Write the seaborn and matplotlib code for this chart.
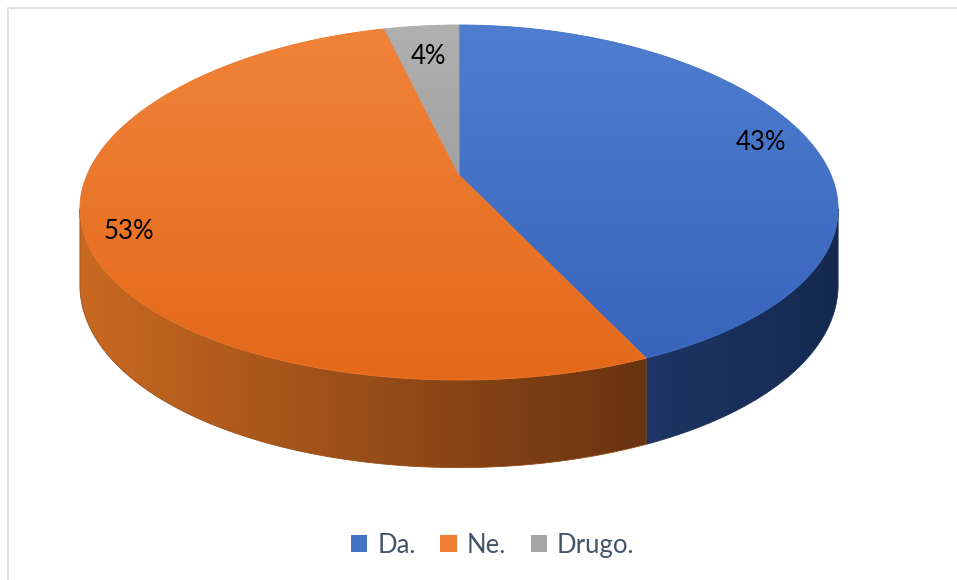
import numpy as np
import matplotlib.pyplot as plt
import seaborn as sns
from matplotlib.patches import Polygon, Patch
from matplotlib.colors import LinearSegmentedColormap

# data
labels = ["Da.", "Ne.", "Drugo."]
shares = [43, 53, 4]
pct_labels = ["43%", "53%", "4%"]

# colours (top face top->bottom, side left->right, legend)
top_colors = [("#4F7ECF", "#3864BC"), ("#F0833A", "#E4691A"), ("#B0B0B0", "#A2A2A2")]
side_colors = [("#1E3566", "#15294F"), ("#C96921", "#683310"), ("#7A7A7A", "#5E5E5E")]
legend_colors = ["#4472C4", "#ED7D31", "#A5A5A5"]

sns.set_style("white")
plt.rcParams['font.family'] = ['Lato', 'DejaVu Sans']

# layout of the tilted pie (pixel space)
cx, cy = 459, 175
rx = 372
ay, by = 177.5, 27.5   # vertical spread / perspective bend
k = 0.2                # perspective widening towards viewer
h0 = 73                # thickness


def proj(theta, f=1.0):
    u = f * np.sin(theta)
    v = -f * np.cos(theta)
    x = cx + rx * u * (1 + k * v)
    y = cy + ay * v + by * v ** 2
    return x, y, v


def grad_fill(ax, xy, c0, c1, direction, z):
    poly = Polygon(xy, closed=True, facecolor='none', edgecolor='none')
    ax.add_patch(poly)
    x0, y0 = xy.min(0)
    x1, y1 = xy.max(0)
    cmap = LinearSegmentedColormap.from_list('g', [c0, c1])
    if direction == 'h':
        arr = np.linspace(0, 1, 256)[None, :]
    else:
        arr = np.linspace(0, 1, 256)[:, None]
    im = ax.imshow(arr, cmap=cmap, extent=(x0, x1, y1, y0), origin='upper',
                   aspect='auto', zorder=z, interpolation='bilinear')
    im.set_clip_path(poly)
    ax.add_patch(Polygon(xy, closed=True, facecolor='none',
                         edgecolor=cmap(0.5), lw=0.6, zorder=z + 0.1))


fig = plt.figure(figsize=(9.57, 5.80), dpi=100)
ax = fig.add_axes([0, 0, 1, 1])
ax.axis('off')

fracs = np.array(shares) / np.sum(shares)
bounds = np.concatenate([[0], np.cumsum(fracs)]) * 2 * np.pi

# visible side range: between the extreme left/right points of the rim
tt = np.linspace(0, 2 * np.pi, 3601)
xx, _, _ = proj(tt)
t_right = tt[np.argmax(xx)]
t_left = tt[np.argmin(xx)]

# sides
for i in range(len(shares)):
    a0 = max(bounds[i], t_right)
    a1 = min(bounds[i + 1], t_left)
    if a1 <= a0:
        continue
    t = np.linspace(a0, a1, 200)
    x, y, v = proj(t)
    h = h0 * (1 + k * v)
    xy = np.vstack([np.column_stack([x, y]), np.column_stack([x, y + h])[::-1]])
    grad_fill(ax, xy, side_colors[i][0], side_colors[i][1], 'h', 2 + i * 0.2)

# top faces
for i in range(len(shares)):
    t = np.linspace(bounds[i], bounds[i + 1], 300)
    x, y, _ = proj(t)
    xy = np.vstack([[cx, cy], np.column_stack([x, y])])
    grad_fill(ax, xy, top_colors[i][0], top_colors[i][1], 'v', 4 + i * 0.2)

# percentage labels
label_f = [0.865, 0.89, 0.76]
for i in range(len(shares)):
    mid = (bounds[i] + bounds[i + 1]) / 2
    x, y, _ = proj(mid, label_f[i])
    ax.text(x, y, pct_labels[i], ha='center', va='center', fontsize=18.5,
            color='#000000', zorder=10)

# chart area border (left and top visible)
ax.plot([8, 8], [8, 580], color='#DCE1E8', lw=1.4, zorder=1)
ax.plot([8, 957], [8, 8], color='#DCE1E8', lw=1.4, zorder=1)

ax.set_xlim(0, 957)
ax.set_ylim(580, 0)

handles = [Patch(facecolor=c, edgecolor='none') for c in legend_colors]
fig.legend(handles, labels, loc='center', bbox_to_anchor=(0.515, 0.06), ncol=3,
           frameon=False, fontsize=18.5, handlelength=0.63, handleheight=0.63,
           handletextpad=0.4, columnspacing=0.95, labelcolor='#44546A')

fig.savefig('out.png', dpi=100)
plt.close(fig)
